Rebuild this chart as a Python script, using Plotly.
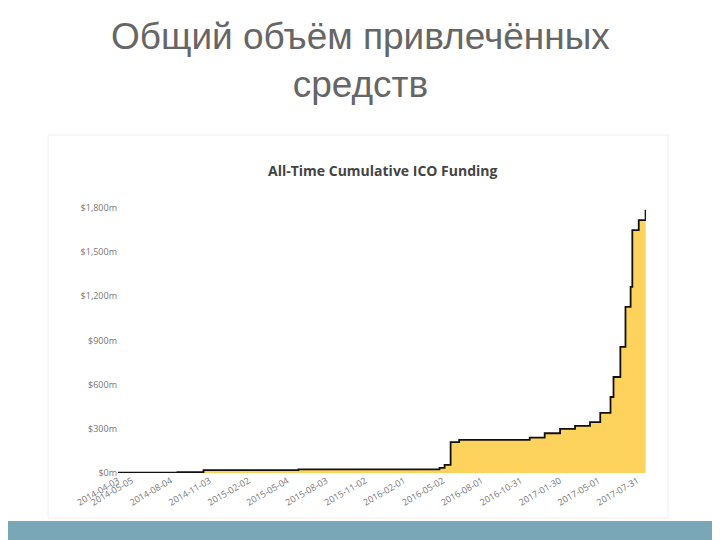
import plotly.graph_objects as go

dates = ["2014-04-03","2014-08-20","2014-10-20","2015-05-30","2016-04-24","2016-05-06",
         "2016-05-20","2016-06-09","2016-11-21","2016-12-26","2017-01-31","2017-03-07",
         "2017-04-11","2017-05-05","2017-05-29","2017-06-05","2017-06-21","2017-07-03",
         "2017-07-15","2017-07-19","2017-08-03","2017-08-19"]
values = [2,5,20,25,35,55,210,225,240,270,300,320,345,408,516,652,856,1128,1264,1650,1718,1787]
tick_dates = ["2014-04-03","2014-05-05","2014-08-04","2014-11-03","2015-02-02","2015-05-04",
              "2015-08-03","2015-11-02","2016-02-01","2016-05-02","2016-08-01","2016-10-31",
              "2017-01-30","2017-05-01","2017-07-31"]
y_ticks = [0,300,600,900,1200,1500,1800]
y_labels = ["$0m","$300m","$600m","$900m","$1,200m","$1,500m","$1,800m"]

W, H = 528, 273
OX, OY = 110, 465
def px(x): return (x-8-OX)/W
def py(y): return (OY-(y-8))/H

fig = go.Figure(go.Scatter(x=dates, y=values, mode="lines", line=dict(color="#111", width=1.8, shape="hv"),
                           fill="tozeroy", fillcolor="#fdd35e"))
fig.update_layout(
    width=720, height=540, paper_bgcolor="white", plot_bgcolor="white",
    margin=dict(l=OX, r=720-OX-W, t=OY-H, b=540-OY), showlegend=False,
    font=dict(family="Open Sans", color="#888"),
    xaxis=dict(range=["2014-04-03","2017-08-20"], tickvals=tick_dates, ticktext=tick_dates,
               tickangle=-30, tickfont=dict(size=9, color="#777"), showgrid=False, ticks="",
               automargin=False),
    yaxis=dict(range=[0,1854], tickvals=y_ticks, ticktext=y_labels, showgrid=False,
               tickfont=dict(size=9, color="#777"), ticks="", automargin=False),
    shapes=[dict(type="rect", xref="paper", yref="paper", x0=px(48), x1=px(668),
                 y0=py(518), y1=py(135), line=dict(color="#eee", width=1), layer="below"),
            dict(type="rect", xref="paper", yref="paper", x0=px(-100), x1=px(800),
                 y0=py(545), y1=py(521), line=dict(width=0), fillcolor="#7aa7b8")],
    annotations=[
        dict(text="Общий объём привлечённых<br>средств", xref="paper", yref="paper",
             x=px(360), y=py(14), xanchor="center", yanchor="top",
             showarrow=False, font=dict(size=37, color="#666", family="Liberation Sans")),
        dict(text="<b>All-Time Cumulative ICO Funding</b>", xref="paper", yref="paper",
             x=px(383), y=py(170), xanchor="center", yanchor="middle", showarrow=False,
             font=dict(size=14, color="#444", family="Open Sans")),
    ])
fig.write_html("out.html")
